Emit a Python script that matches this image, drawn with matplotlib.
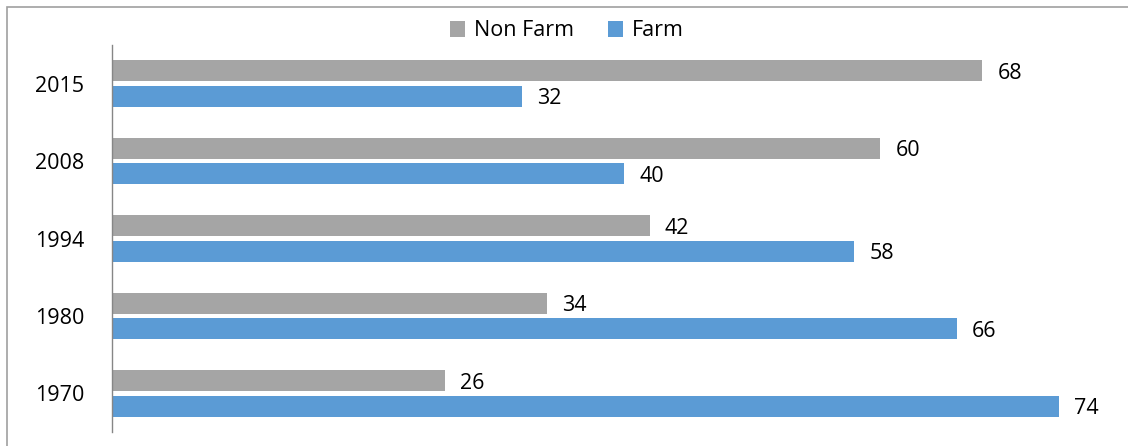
import matplotlib
matplotlib.use("Agg")
import matplotlib.pyplot as plt
import numpy as np
from matplotlib.patches import Rectangle

years = ["1970", "1980", "1994", "2008", "2015"]
non_farm = [26, 34, 42, 60, 68]
farm = [74, 66, 58, 40, 32]

plt.rcParams['font.family'] = ['Open Sans', 'DejaVu Sans']

W, H = 1128, 446
fig = plt.figure(figsize=(W / 100, H / 100), dpi=100)
ax = fig.add_axes([112 / W, 1 - 432 / H, (78 * 12.8) / W, (432 - 45) / H])

y = np.arange(len(years))
h = 0.27
gray = "#A5A5A5"
blue = "#5B9BD5"
b1 = ax.barh(y + h / 2 + 0.03, non_farm, height=h, color=gray, label="Non Farm")
b2 = ax.barh(y - h / 2 - 0.03, farm, height=h, color=blue, label="Farm")

for bars, vals in ((b1, non_farm), (b2, farm)):
    for bar, v in zip(bars, vals):
        ax.annotate(str(v), (bar.get_width(), bar.get_y() + bar.get_height() / 2),
                    xytext=(11, 0), textcoords="offset points",
                    va="center_baseline", ha="left", fontsize=15.5, color="#000000")

ax.set_xlim(0, 78)
ax.set_ylim(-0.5, len(years) - 0.5)
ax.set_yticks(y)
ax.set_yticklabels(years, fontsize=15.5, va="center_baseline")
ax.tick_params(axis="y", length=0, pad=20)
ax.set_xticks([])
for s in ("top", "right", "bottom"):
    ax.spines[s].set_visible(False)
ax.spines["left"].set_color("#868686")
ax.spines["left"].set_linewidth(1)

leg = fig.legend(handles=[b1, b2], loc="center", bbox_to_anchor=(567 / W, 1 - 31 / H),
                 ncol=2, frameon=False, fontsize=15.5, handlelength=0.7, handleheight=0.7,
                 columnspacing=1.6, handletextpad=0.4)

fig.patches.append(Rectangle((7 / W, -0.01), 1.2, 1 - 7 / H + 0.01, transform=fig.transFigure,
                             fill=False, edgecolor="#A0A0A0", linewidth=1.2))

fig.savefig("out.png", dpi=100)
